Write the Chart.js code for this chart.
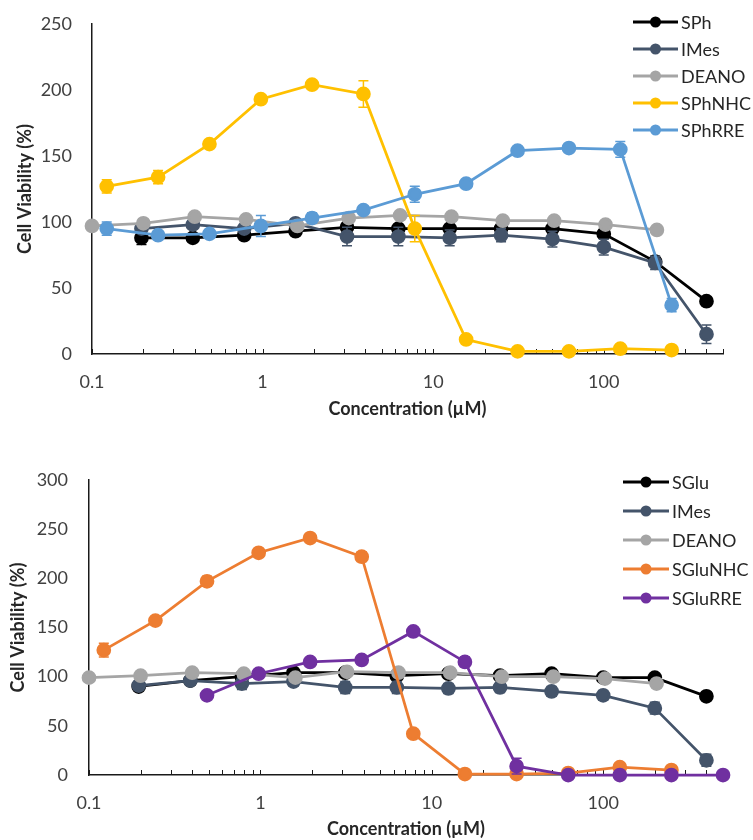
<!DOCTYPE html>
<html>
<head>
<meta charset="utf-8">
<script src="https://cdn.jsdelivr.net/npm/chart.js@4.4.1/dist/chart.umd.min.js"></script>
<style>
  html, body { margin: 0; padding: 0; background: #fff; }
  #wrap { position: relative; width: 753px; height: 840px; }
  canvas { position: absolute; left: 0; }
</style>
</head>
<body>
<div id="wrap">
  <canvas id="chartTop" width="753" height="420" style="top:0"></canvas>
  <canvas id="chartBottom" width="753" height="420" style="top:420px"></canvas>
</div>
<script>
// concentraciones (µM)
const concNHC = [0.122, 0.244, 0.488, 0.977, 1.95, 3.9, 7.8, 15.6, 31.25, 62.5, 125, 250];
const concMain = [0.195, 0.39, 0.78, 1.56, 3.125, 6.25, 12.5, 25, 50, 100, 200, 400];
const concDeano = [0.1, 0.2, 0.4, 0.8, 1.6, 3.2, 6.4, 12.8, 25.6, 51.2, 102.4, 204.8];
const concGluRRE = [0.488, 0.977, 1.95, 3.9, 7.8, 15.6, 31.25, 62.5, 125, 250, 500];

const xTicks = [0.1, 0.2, 0.3, 0.4, 0.5, 0.6, 0.7, 0.8, 0.9, 1, 2, 3, 4, 5, 6, 7, 8, 9,
  10, 20, 30, 40, 50, 60, 70, 80, 90, 100, 200, 300, 400, 500];
const xLabels = [0.1, 1, 10, 100];

// grafico superior
const sphVals = [88, 88, 90, 93, 96, 95, 95, 95, 95, 91, 70, 40];
const sphErr = [5, 3, 3, 3, 3, 2, 2, 2, 2, 3, 4, 3];
const imesVals1 = [95, 98, 95, 99, 89, 89, 88, 90, 87, 81, 69, 15];
const imesErr1 = [3, 3, 3, 3, 7, 7, 6, 5, 6, 6, 5, 7];
const deanoVals1 = [97, 99, 104, 102, 97, 103, 105, 104, 101, 101, 98, 94];
const deanoErr1 = [1, 1, 1, 1, 1, 1, 1, 1, 1, 1, 1, 1];
const sphNhcVals = [127, 134, 159, 193, 204, 197, 95, 11, 2, 2, 4, 3];
const sphNhcErr = [5, 5, 2, 2, 2, 10, 10, 2, 1, 1, 1, 1];
const sphRreVals = [95, 90, 91, 97, 103, 109, 121, 129, 154, 156, 155, 37];
const sphRreErr = [5, 2, 2, 8, 4, 2, 6, 3, 3, 3, 6, 5];

// grafico inferior
const sgluVals = [90, 96, 100, 104, 104, 101, 103, 101, 103, 99, 99, 80];
const sgluErr = [2, 2, 2, 2, 2, 2, 2, 2, 2, 2, 2, 2];
const imesVals2 = [91, 96, 93, 95, 89, 89, 88, 89, 85, 81, 68, 15];
const imesErr2 = [3, 3, 6, 4, 6, 6, 5, 5, 5, 5, 6, 6];
const deanoVals2 = [99, 101, 104, 103, 99, 105, 104, 104, 100, 100, 98, 93];
const deanoErr2 = [1, 1, 1, 1, 1, 1, 1, 1, 1, 1, 1, 1];
const sgluNhcVals = [127, 157, 197, 226, 241, 222, 42, 1, 1, 2, 8, 5];
const sgluNhcErr = [7, 3, 5, 2, 2, 5, 2, 1, 1, 1, 2, 2];
const sgluRreVals = [81, 103, 115, 117, 146, 115, 9, 0, 0, 0, 0];
const sgluRreErr = [2, 4, 4, 2, 3, 5, 8, 1, 1, 1, 1];

const FONT = 'Lato, "Open Sans", sans-serif';

function series(label, xs, ys, errs, color, idx) {
  return {
    label,
    data: xs.map((x, i) => ({ x, y: ys[i] })),
    errors: errs,
    borderColor: color,
    backgroundColor: color,
    pointBackgroundColor: color,
    pointBorderColor: color,
    pointRadius: 6,
    pointHoverRadius: 6,
    borderWidth: 2.75,
    showLine: true,
    clip: false,
    order: 10 - idx
  };
}

// barras de error con la escala y
const errorBars = {
  id: 'errorBars',
  beforeDatasetDraw(chart, args) {
    const ds = chart.data.datasets[args.index];
    if (!ds.errors) return;
    const y = chart.scales.y;
    const ctx = chart.ctx;
    ctx.save();
    ctx.strokeStyle = ds.borderColor;
    ctx.lineWidth = 1.5;
    args.meta.data.forEach((pt, i) => {
      const e = ds.errors[i];
      if (!e) return;
      const v = ds.data[i].y;
      const top = y.getPixelForValue(v + e);
      const bot = y.getPixelForValue(v - e);
      ctx.beginPath();
      ctx.moveTo(pt.x, top); ctx.lineTo(pt.x, bot);
      ctx.moveTo(pt.x - 5, top); ctx.lineTo(pt.x + 5, top);
      ctx.moveTo(pt.x - 5, bot); ctx.lineTo(pt.x + 5, bot);
      ctx.stroke();
    });
    ctx.restore();
  }
};

// marcas hacia dentro en el eje x
const innerTicks = {
  id: 'innerTicks',
  beforeDatasetsDraw(chart) {
    const x = chart.scales.x;
    const ctx = chart.ctx;
    ctx.save();
    ctx.strokeStyle = '#1a1a1a';
    ctx.lineWidth = 1;
    x.ticks.forEach(t => {
      const px = Math.round(x.getPixelForValue(t.value)) + 0.5;
      ctx.beginPath();
      ctx.moveTo(px, x.top);
      ctx.lineTo(px, x.top - 5);
      ctx.stroke();
    });
    ctx.restore();
  }
};

// leyenda dentro del area del grafico
const sideLegend = {
  id: 'sideLegend',
  afterDraw(chart, args, opts) {
    const ctx = chart.ctx;
    ctx.save();
    chart.data.datasets.forEach((ds, i) => {
      const y = opts.top + i * opts.gap;
      ctx.strokeStyle = ds.borderColor;
      ctx.lineWidth = 3;
      ctx.beginPath();
      ctx.moveTo(opts.x1, y);
      ctx.lineTo(opts.x2, y);
      ctx.stroke();
      ctx.fillStyle = ds.borderColor;
      ctx.beginPath();
      ctx.arc((opts.x1 + opts.x2) / 2, y, 5.5, 0, Math.PI * 2);
      ctx.fill();
      ctx.fillStyle = '#262626';
      ctx.font = '18px ' + FONT;
      ctx.textAlign = 'left';
      ctx.textBaseline = 'middle';
      ctx.fillText(ds.label, opts.x2 + 3, y + 1);
    });
    ctx.restore();
  }
};

function makeChart(id, datasets, cfg) {
  return new Chart(document.getElementById(id), {
    type: 'line',
    data: { datasets },
    plugins: [errorBars, innerTicks, sideLegend],
    options: {
      responsive: false,
      animation: false,
      devicePixelRatio: 1,
      layout: { padding: { top: cfg.top, right: 30, left: 0, bottom: 0 } },
      plugins: {
        legend: { display: false },
        tooltip: { enabled: false },
        sideLegend: cfg.legend
      },
      scales: {
        x: {
          type: 'logarithmic',
          min: 0.1,
          max: 500,
          afterBuildTicks: s => { s.ticks = xTicks.map(v => ({ value: v })); },
          afterFit: s => { s.height = cfg.xHeight; },
          grid: { display: false, drawTicks: false },
          border: { display: true, color: '#1a1a1a', width: 1.5 },
          ticks: {
            autoSkip: false,
            maxRotation: 0,
            padding: 17,
            color: '#404040',
            font: { family: FONT, size: 18 },
            callback: v => xLabels.includes(v) ? String(v) : ''
          },
          title: {
            display: true,
            text: 'Concentration (µM)',
            color: '#262626',
            font: { family: FONT, size: 18, weight: 'bold' },
            padding: { top: 0, bottom: 0 }
          }
        },
        y: {
          min: 0,
          max: cfg.ymax,
          afterFit: s => { s.width = cfg.yWidth; s.paddingTop = 0; s.paddingBottom = 0; },
          grid: { display: false, drawTicks: false },
          border: { display: true, color: '#1a1a1a', width: 1.5 },
          ticks: {
            stepSize: 50,
            padding: cfg.yPad,
            color: '#404040',
            font: { family: FONT, size: 18 }
          },
          title: {
            display: true,
            text: 'Cell Viability (%)',
            color: '#262626',
            font: { family: FONT, size: 18, weight: 'bold' },
            padding: { top: cfg.titlePad, bottom: 0 }
          }
        }
      }
    }
  });
}

makeChart('chartTop', [
  series('SPh', concMain, sphVals, sphErr, '#000000', 0),
  series('IMes', concMain, imesVals1, imesErr1, '#44546A', 1),
  series('DEANO', concDeano, deanoVals1, deanoErr1, '#A5A5A5', 2),
  series('SPhNHC', concNHC, sphNhcVals, sphNhcErr, '#FFC000', 3),
  series('SPhRRE', concNHC, sphRreVals, sphRreErr, '#5B9BD5', 4)
], { top: 24, xHeight: 66, ymax: 250, yWidth: 92, yPad: 20, titlePad: 14,
     legend: { x1: 633, x2: 678, top: 22, gap: 27 } });

makeChart('chartBottom', [
  series('SGlu', concMain, sgluVals, sgluErr, '#000000', 0),
  series('IMes', concMain, imesVals2, imesErr2, '#44546A', 1),
  series('DEANO', concDeano, deanoVals2, deanoErr2, '#A5A5A5', 2),
  series('SGluNHC', concNHC, sgluNhcVals, sgluNhcErr, '#ED7D31', 3),
  series('SGluRRE', concGluRRE, sgluRreVals, sgluRreErr, '#7030A0', 4)
], { top: 60, xHeight: 65, ymax: 300, yWidth: 89, yPad: 21, titlePad: 7,
     legend: { x1: 623, x2: 669, top: 62, gap: 29 } });
</script>
</body>
</html>
